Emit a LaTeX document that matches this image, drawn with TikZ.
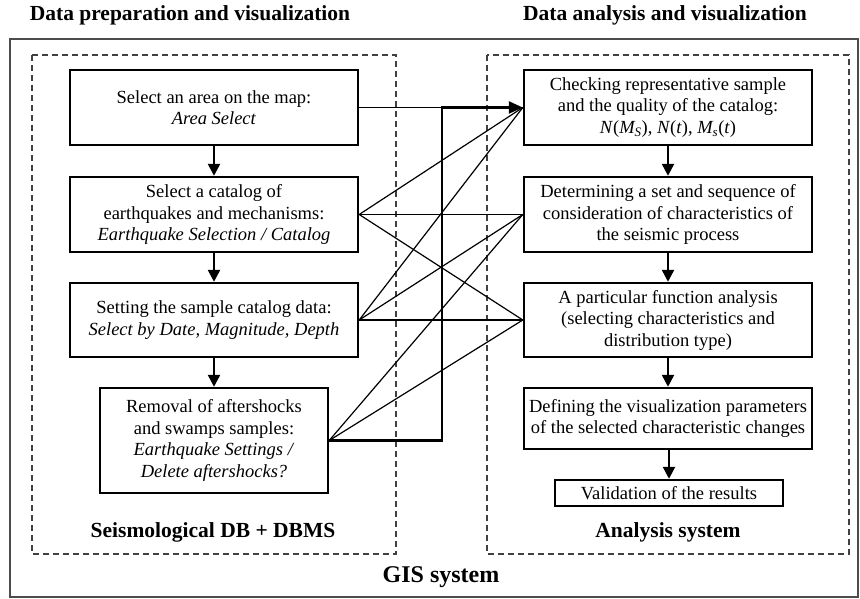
\documentclass[tikz,border=0pt]{standalone}
\usepackage{fontspec}
\setmainfont{Liberation Serif}
\usetikzlibrary{arrows.meta}
\begin{document}
\begin{tikzpicture}[x=1pt,y=-1pt,
  boxstyle/.style={draw=black,line width=2.4pt,align=center,inner sep=0pt,
    font=\fontsize{18.5}{21.5}\selectfont,minimum width=288pt},
  frameline/.style={draw=black!70,line width=1.8pt},
  dashbox/.style={draw=black!75,line width=1.1pt,dash pattern=on 6pt off 4pt},
  flowarrow/.style={line width=2.4pt,-{Triangle[length=12pt,width=12pt]}},
  thinline/.style={line width=1.2pt},
  thickline/.style={line width=2.4pt},
  title/.style={font=\fontsize{21.5}{24}\bfseries\selectfont},
  sublabel/.style={font=\fontsize{21.5}{24}\bfseries\selectfont},
  biglabel/.style={font=\fontsize{24}{28}\bfseries\selectfont}]
\useasboundingbox (0,0) rectangle (860,599);
% frames
\draw[frameline] (10,39) rectangle (858,597);
\draw[dashbox] (32,55) rectangle (396,554);
\draw[dashbox] (487,55) rectangle (849,554);
% titles
\node[title] (t1) at (190,15) {Data preparation and visualization};
\node[title] (t2) at (665,15) {Data analysis and visualization};
\node[sublabel] (l1) at (213,532) {Seismological DB + DBMS};
\node[sublabel] (l2) at (668,532) {Analysis system};
\node[biglabel] (l3) at (441,577) {GIS system};
% left boxes
\node[boxstyle,minimum height=75pt] (B1) at (214,107.5) {Select an area on the map:\\\textit{Area Select}};
\node[boxstyle,minimum height=75pt] (B2) at (214,214.5) {Select a catalog of\\earthquakes and mechanisms:\\\textit{Earthquake Selection / Catalog}};
\node[boxstyle,minimum height=74pt] (B3) at (214,320) {Setting the sample catalog data:\\\textit{Select by Date, Magnitude, Depth}};
\node[boxstyle,minimum width=228pt,minimum height=105pt] (B4) at (214,440.5) {Removal of aftershocks\\and swamps samples:\\\textit{Earthquake Settings /}\\\textit{Delete aftershocks?}};
% right boxes
\node[boxstyle,minimum height=75pt] (R1) at (668,107.5) {Checking representative sample\\and the quality of the catalog:\\\textit{N}(\textit{M\textsubscript{S}}), \textit{N}(\textit{t}), \textit{M\textsubscript{s}}(\textit{t})};
\node[boxstyle,minimum height=75pt] (R2) at (668,214.5) {Determining a set and sequence of\\consideration of characteristics of\\the seismic process};
\node[boxstyle,minimum height=74pt] (R3) at (668,320) {A particular function analysis\\(selecting characteristics and\\distribution type)};
\node[boxstyle,minimum height=61pt] (R4) at (668,418.5) {Defining the visualization parameters\\of the selected characteristic changes};
\node[boxstyle,minimum width=228pt,minimum height=26pt] (R5) at (669,493) {Validation of the results};
% vertical arrows
\draw[flowarrow] (B1) -- (B2);
\draw[flowarrow] (B2) -- (B3);
\draw[flowarrow] (B3) -- (B4);
\draw[flowarrow] (R1) -- (R2);
\draw[flowarrow] (R2) -- (R3);
\draw[flowarrow] (R3) -- (R4);
\draw[flowarrow] (R4.south -| R5.north) -- (R5.north);
% cross connections
\coordinate (J) at (442,107.5);
\draw[thinline] (B1.east) -- (J);
\draw[thinline] (B2.east) -- (R1.west);
\draw[thinline] (B2.east) -- (R2.west);
\draw[thinline] (B2.east) -- (R3.west);
\draw[thinline] (B3.east) -- (R1.west);
\draw[thinline] (B3.east) -- (R2.west);
\draw[thinline] (B3.east) -- (R3.west);
\draw[thinline] (B4.east) -- (R2.west);
\draw[thinline] (B4.east) -- (R3.west);
\draw[thickline,-{Triangle[length=14pt,width=12pt]}] (B4.east) -- (B4.east -| J) -- (J) -- (R1.west);
\end{tikzpicture}
\end{document}
